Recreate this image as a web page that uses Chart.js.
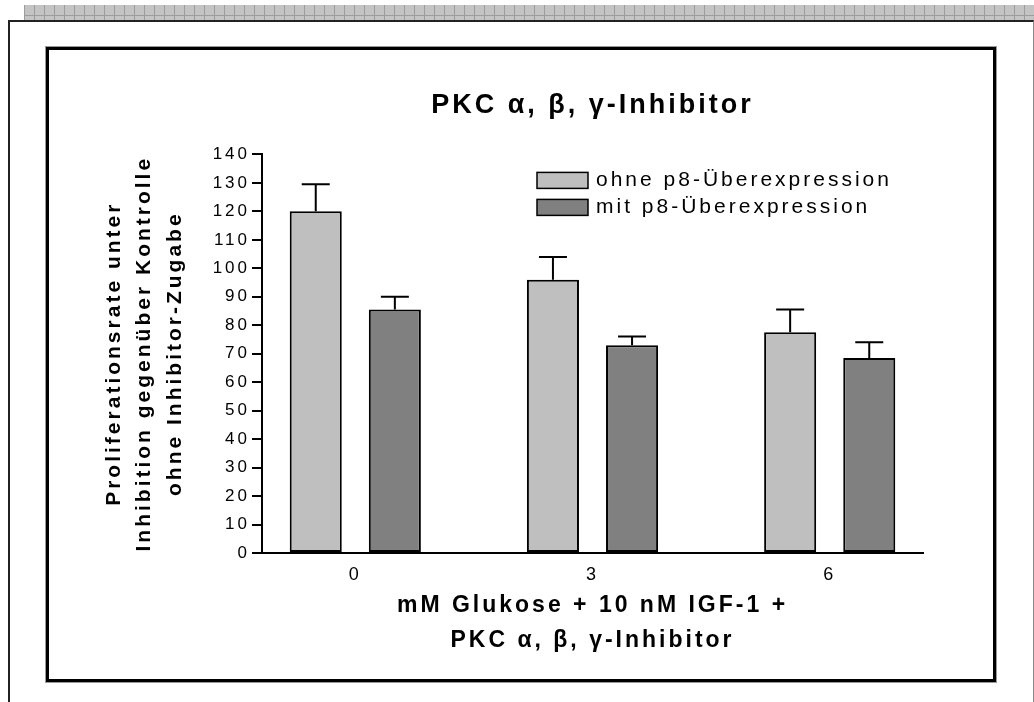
<!DOCTYPE html>
<html>
<head>
<meta charset="utf-8">
<script src="https://cdn.jsdelivr.net/npm/chart.js@4"></script>
<style>
  body { margin: 0; background: #fff; width: 1034px; height: 702px; overflow: hidden; position: relative; }
  .strip {
    position: absolute; left: 24px; top: 5px; width: 1010px; height: 15px;
    background-color: #c4c4c4;
    background-image: linear-gradient(90deg, #9c9c9c 1px, transparent 1px),
                      linear-gradient(180deg, transparent 10px, #9c9c9c 10px, #9c9c9c 11px, transparent 11px);
    background-size: 10px 15px, 10px 15px;
  }
  .outer {
    position: absolute; left: 8px; top: 20px; width: 1023px; height: 700px;
    border-left: 2px solid #222; border-top: 2px solid #222; border-right: 1px solid #888;
  }
  .frame {
    position: absolute; left: 46px; top: 47px; width: 944px; height: 629px;
    border: 3px solid #000; box-shadow: 0 0 0 1px #999;
  }
  canvas { position: absolute; left: 49px; top: 50px; }
</style>
</head>
<body>
<div class="strip"></div>
<div class="outer"></div>
<div class="frame"></div>
<canvas id="chart" width="944" height="629"></canvas>
<script>
// Data
const glucose = [0, 3, 6];
const ohneP8 = [120, 96, 77.5];
const ohneErr = [9.5, 8, 8];
const mitP8 = [85.5, 73, 68.5];
const mitErr = [4.5, 3, 5.5];
const yMin = 0, yMax = 140, yStep = 10;

const seriesLabels = ['ohne p8-Überexpression', 'mit p8-Überexpression'];
const chartTitle = 'PKC α, β, γ-Inhibitor';
const yTitle = ['Proliferationsrate unter', 'Inhibition gegenüber Kontrolle', 'ohne Inhibitor-Zugabe'];
const xTitle = ['mM Glukose + 10 nM IGF-1 +', 'PKC α, β, γ-Inhibitor'];

const FONT = "'Liberation Sans', Arial, sans-serif";
const SPACING = '3px';

// wide letter spacing like the original export
const spacingPlugin = {
  id: 'spacing',
  beforeUpdate(chart) { chart.ctx.letterSpacing = SPACING; },
  beforeLayout(chart) { chart.ctx.letterSpacing = SPACING; },
  beforeDraw(chart) { chart.ctx.letterSpacing = SPACING; }
};

// upward error bars with caps
const errorBars = {
  id: 'errorBars',
  afterDatasetsDraw(chart) {
    const ctx = chart.ctx;
    const y = chart.scales.y;
    ctx.save();
    ctx.strokeStyle = '#000';
    ctx.lineWidth = 2;
    chart.data.datasets.forEach((ds, i) => {
      const meta = chart.getDatasetMeta(i);
      meta.data.forEach((bar, j) => {
        const top = y.getPixelForValue(ds.data[j].y + ds.errors[j]);
        ctx.beginPath();
        ctx.moveTo(bar.x, bar.y);
        ctx.lineTo(bar.x, top);
        ctx.moveTo(bar.x - 14, top);
        ctx.lineTo(bar.x + 14, top);
        ctx.stroke();
      });
    });
    ctx.restore();
  }
};

// legend inside the plot area
const innerLegend = {
  id: 'innerLegend',
  afterDraw(chart) {
    const ctx = chart.ctx;
    const area = chart.chartArea;
    const bx = area.left + 275, by = area.top + 18;
    ctx.save();
    ctx.font = '21px ' + FONT;
    ctx.textBaseline = 'middle';
    chart.data.datasets.forEach((ds, i) => {
      const top = by + i * 27;
      ctx.fillStyle = ds.backgroundColor;
      ctx.fillRect(bx, top, 51, 16);
      ctx.strokeStyle = '#000';
      ctx.lineWidth = 1.5;
      ctx.strokeRect(bx, top, 51, 16);
      ctx.fillStyle = '#000';
      ctx.fillText(ds.label, bx + 59, top + 8);
    });
    ctx.restore();
  }
};

new Chart(document.getElementById('chart'), {
  type: 'bar',
  data: {
    datasets: [
      {
        label: seriesLabels[0],
        data: glucose.map((g, i) => ({ x: g, y: ohneP8[i] })),
        errors: ohneErr,
        backgroundColor: '#bfbfbf',
        borderColor: '#000',
        borderWidth: 2,
        borderSkipped: false
      },
      {
        label: seriesLabels[1],
        data: glucose.map((g, i) => ({ x: g, y: mitP8[i] })),
        errors: mitErr,
        backgroundColor: '#808080',
        borderColor: '#000',
        borderWidth: 2,
        borderSkipped: false
      }
    ]
  },
  options: {
    responsive: false,
    animation: false,
    categoryPercentage: 0.667,
    barPercentage: 0.658,
    layout: { padding: { left: 40, right: 70, top: 0, bottom: 0 } },
    plugins: {
      legend: { display: false },
      tooltip: { enabled: false },
      title: {
        display: true,
        text: chartTitle,
        fullSize: false,
        color: '#000',
        font: { family: FONT, size: 27, weight: 'bold', lineHeight: 1.2 },
        padding: { top: 39, bottom: 33 }
      }
    },
    scales: {
      x: {
        type: 'linear',
        offset: false,
        min: -1.18,
        max: 7.18,
        afterBuildTicks: (scale) => { scale.ticks = glucose.map(v => ({ value: v })); },
        afterFit: (scale) => { scale.height = 126; },
        grid: { display: false, drawTicks: false, offset: false },
        border: { display: true, color: '#000', width: 2 },
        ticks: {
          color: '#000',
          padding: 11,
          maxRotation: 0,
          font: { family: FONT, size: 18 },
          callback: (v) => String(v)
        },
        title: {
          display: true,
          text: xTitle,
          color: '#000',
          font: { family: FONT, size: 23, weight: 'bold', lineHeight: 1.53 },
          padding: { top: 0, bottom: 21 }
        }
      },
      y: {
        min: yMin,
        max: yMax,
        afterFit: (scale) => { scale.width = 173; },
        grid: { drawOnChartArea: false, drawTicks: true, tickLength: 10, color: '#000', lineWidth: 2 },
        border: { display: true, color: '#000', width: 2 },
        ticks: {
          stepSize: yStep,
          color: '#000',
          padding: 2,
          font: { family: FONT, size: 17 }
        },
        title: {
          display: true,
          text: yTitle,
          color: '#000',
          font: { family: FONT, size: 21, weight: 'bold', lineHeight: 1.45 },
          padding: { top: 10, bottom: 0 }
        }
      }
    }
  },
  plugins: [spacingPlugin, errorBars, innerLegend]
});
</script>
</body>
</html>
